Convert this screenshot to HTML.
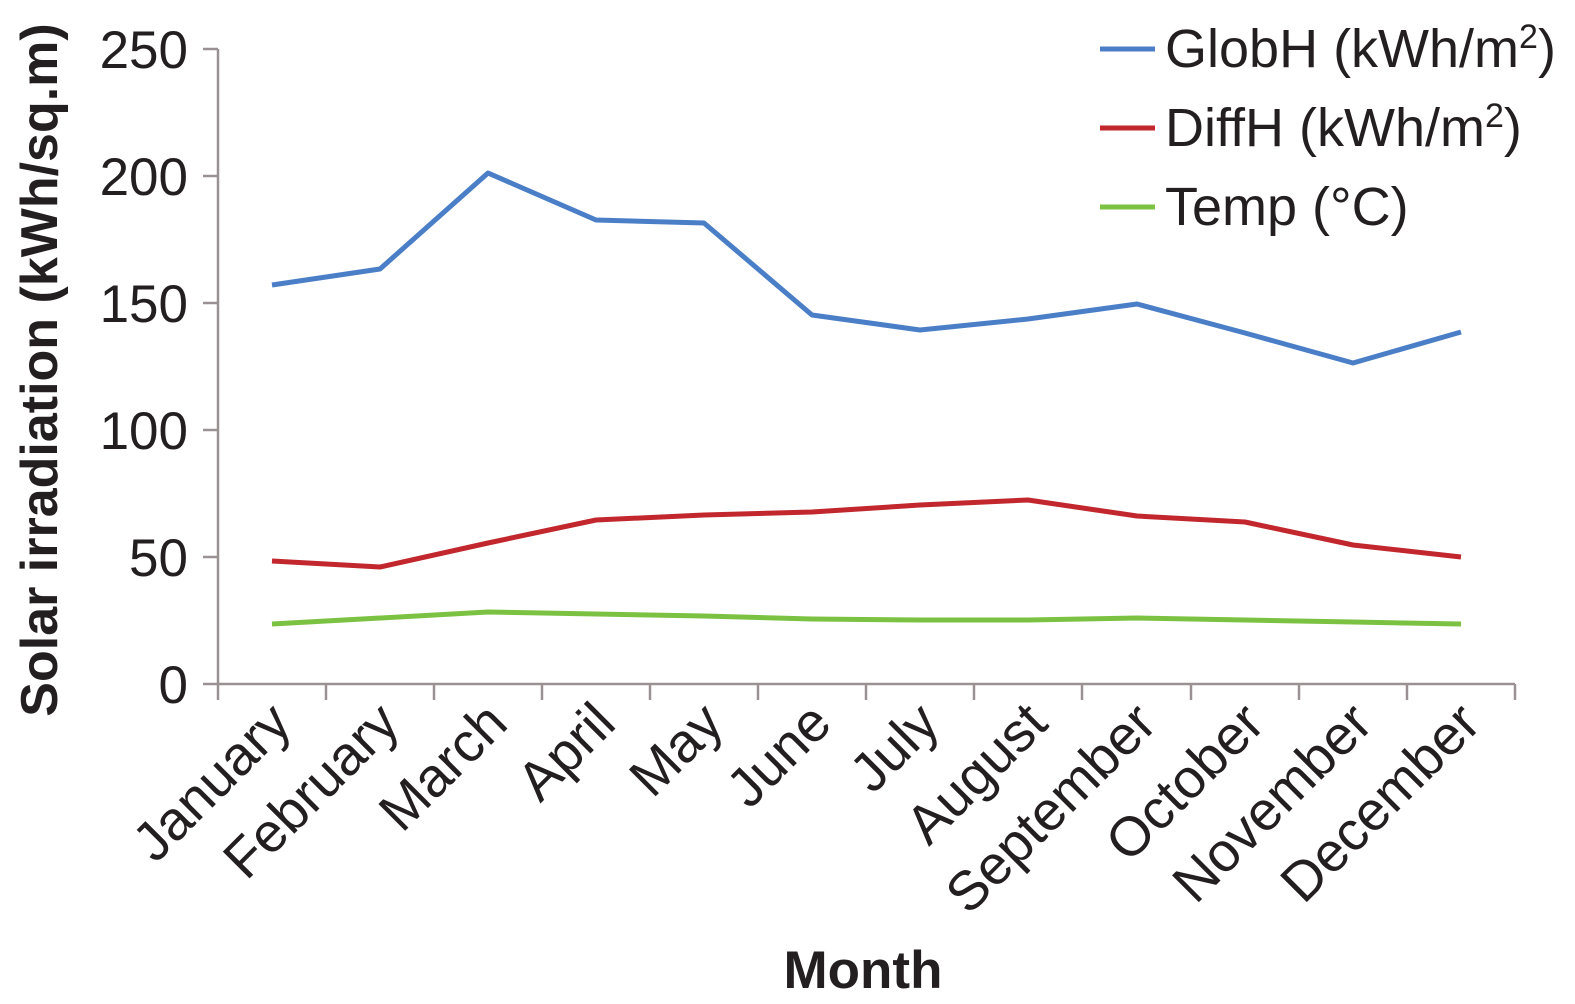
<!DOCTYPE html>
<html><head><style>body{margin:0;background:#fff}svg{display:block}</style></head><body>
<svg width="1575" height="1004" xmlns="http://www.w3.org/2000/svg" font-family="Liberation Sans, sans-serif" fill="#231f20">
<g stroke="#9a9292" stroke-width="2.5">
<line x1="218" y1="49" x2="218" y2="700"/>
<line x1="203" y1="684" x2="1515" y2="684"/>
<line x1="203" y1="49" x2="218" y2="49"/>
<line x1="203" y1="176" x2="218" y2="176"/>
<line x1="203" y1="303" x2="218" y2="303"/>
<line x1="203" y1="430" x2="218" y2="430"/>
<line x1="203" y1="557" x2="218" y2="557"/>
<line x1="326" y1="684" x2="326" y2="700"/><line x1="434" y1="684" x2="434" y2="700"/><line x1="542" y1="684" x2="542" y2="700"/><line x1="650" y1="684" x2="650" y2="700"/><line x1="758" y1="684" x2="758" y2="700"/><line x1="866" y1="684" x2="866" y2="700"/><line x1="974" y1="684" x2="974" y2="700"/><line x1="1082" y1="684" x2="1082" y2="700"/><line x1="1191" y1="684" x2="1191" y2="700"/><line x1="1299" y1="684" x2="1299" y2="700"/><line x1="1407" y1="684" x2="1407" y2="700"/><line x1="1515" y1="684" x2="1515" y2="700"/>
</g>
<g font-size="53" text-anchor="end">
<text x="188" y="68">250</text><text x="188" y="195">200</text><text x="188" y="322">150</text><text x="188" y="449">100</text><text x="188" y="576">50</text><text x="188" y="703">0</text>
</g>
<g font-size="55" text-anchor="end">
<text transform="translate(294,726) rotate(-45)">January</text>
<text transform="translate(402,726) rotate(-45)">February</text>
<text transform="translate(510,726) rotate(-45)">March</text>
<text transform="translate(618,726) rotate(-45)">April</text>
<text transform="translate(726,726) rotate(-45)">May</text>
<text transform="translate(834,726) rotate(-45)">June</text>
<text transform="translate(942,726) rotate(-45)">July</text>
<text transform="translate(1050,726) rotate(-45)">August</text>
<text transform="translate(1159,726) rotate(-45)">September</text>
<text transform="translate(1267,726) rotate(-45)">October</text>
<text transform="translate(1375,726) rotate(-45)">November</text>
<text transform="translate(1483,726) rotate(-45)">December</text>
</g>
<text transform="translate(57,370) rotate(-90)" text-anchor="middle" font-size="52" font-weight="bold">Solar irradiation (kWh/sq.m)</text>
<text x="863" y="988" text-anchor="middle" font-size="53" font-weight="bold">Month</text>
<g fill="none" stroke-width="5" stroke-linejoin="round">
<polyline stroke="#4a7fc7" points="272,285 380,269 488,173 596,220 704,223 812,315 920,330 1028,319 1137,304 1245,333 1353,363 1461,332"/>
<polyline stroke="#c1272d" points="272,561 380,567 488,543 596,520 704,515 812,512 920,505 1028,500 1137,516 1245,522 1353,545 1461,557"/>
<polyline stroke="#7cc242" points="272,624 380,618 488,612 596,614 704,616 812,619 920,620 1028,620 1137,618 1245,620 1353,622 1461,624"/>
<line x1="1100" y1="49" x2="1155" y2="49" stroke="#4a7fc7"/>
<line x1="1100" y1="128" x2="1155" y2="128" stroke="#c1272d"/>
<line x1="1100" y1="207" x2="1155" y2="207" stroke="#7cc242"/>
</g>
<g font-size="54">
<text x="1165" y="67">GlobH (kWh/m<tspan font-size="34" dy="-19">2</tspan><tspan dy="19">)</tspan></text>
<text x="1165" y="146">DiffH (kWh/m<tspan font-size="34" dy="-19">2</tspan><tspan dy="19">)</tspan></text>
<text x="1165" y="225">Temp (°C)</text>
</g>
</svg>
</body></html>
